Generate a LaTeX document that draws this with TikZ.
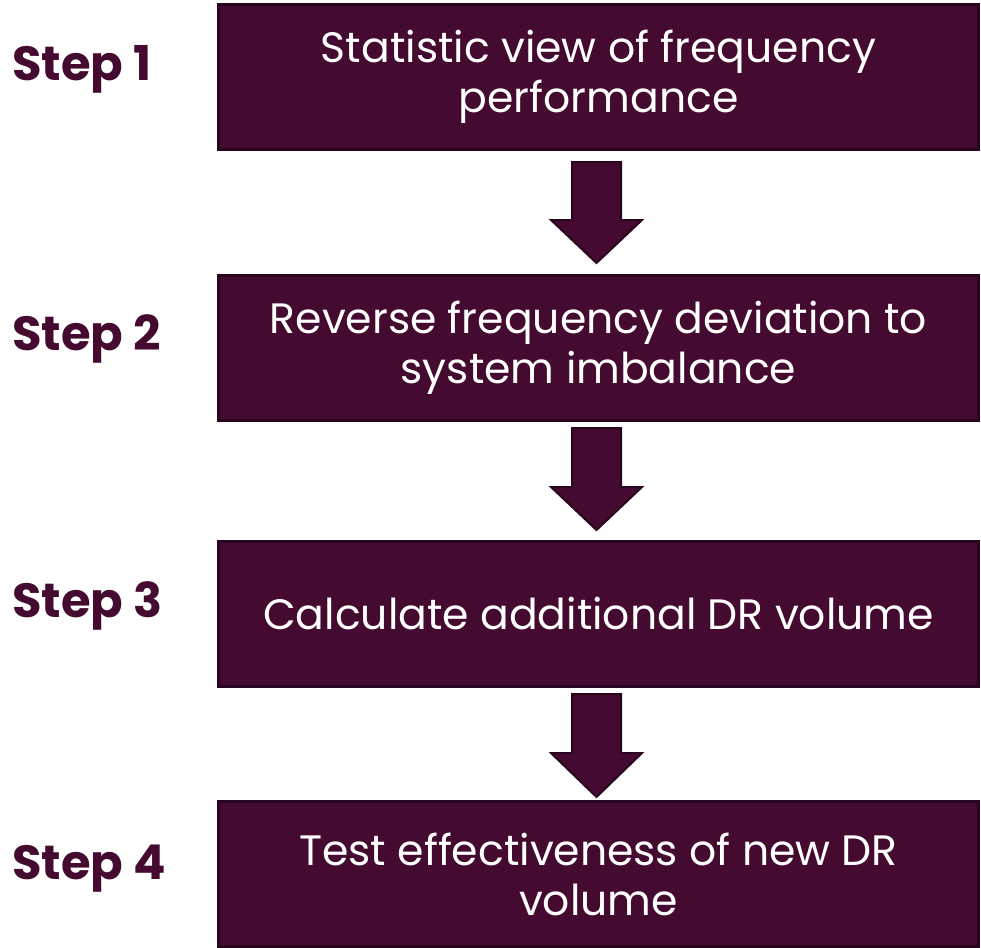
\documentclass[tikz,border=0pt]{standalone}
\usepackage{fontspec}
\setmainfont{Poppins}
\definecolor{plum}{HTML}{440A30}
\definecolor{plumdark}{HTML}{2A0520}
\begin{document}
\begin{tikzpicture}[x=1pt,y=-1pt,
  stepbox/.style={draw=plumdark, line width=3pt, fill=plum, minimum width=760pt, minimum height=145pt,
    text=white, align=center, font=\fontsize{42.5}{50}\selectfont, inner sep=0pt},
  steplabel/.style={anchor=base west, text=plum, font=\bfseries\fontsize{48}{50}\selectfont, inner sep=0pt},
  downarrow/.style={draw=plumdark, line width=2pt, fill=plum, line join=miter}]
\useasboundingbox (0,0) rectangle (981,947);
\node[stepbox] (b1) at (598.5,77) {Statistic view of frequency\\performance};
\node[stepbox] (b2) at (598.5,347.5) {Reverse frequency deviation to\\system imbalance};
\node[stepbox] (b3) at (598.5,614) {Calculate additional DR volume};
\node[stepbox] (b4) at (598.5,874) {Test effectiveness of new DR\\volume};
\node[steplabel] (s1) at (12,81) {Step 1};
\node[steplabel] (s2) at (12,350) {Step 2};
\node[steplabel] (s3) at (12,617) {Step 3};
\node[steplabel] (s4) at (12,879) {Step 4};
\foreach \top/\head/\tip in {162/220/263, 428/487/530, 694/753/797}{
  \draw[downarrow] (572,\top) -- (621,\top) -- (621,\head) -- (642,\head) -- (596.5,\tip) -- (551,\head) -- (572,\head) -- cycle;
}
\end{tikzpicture}
\end{document}
